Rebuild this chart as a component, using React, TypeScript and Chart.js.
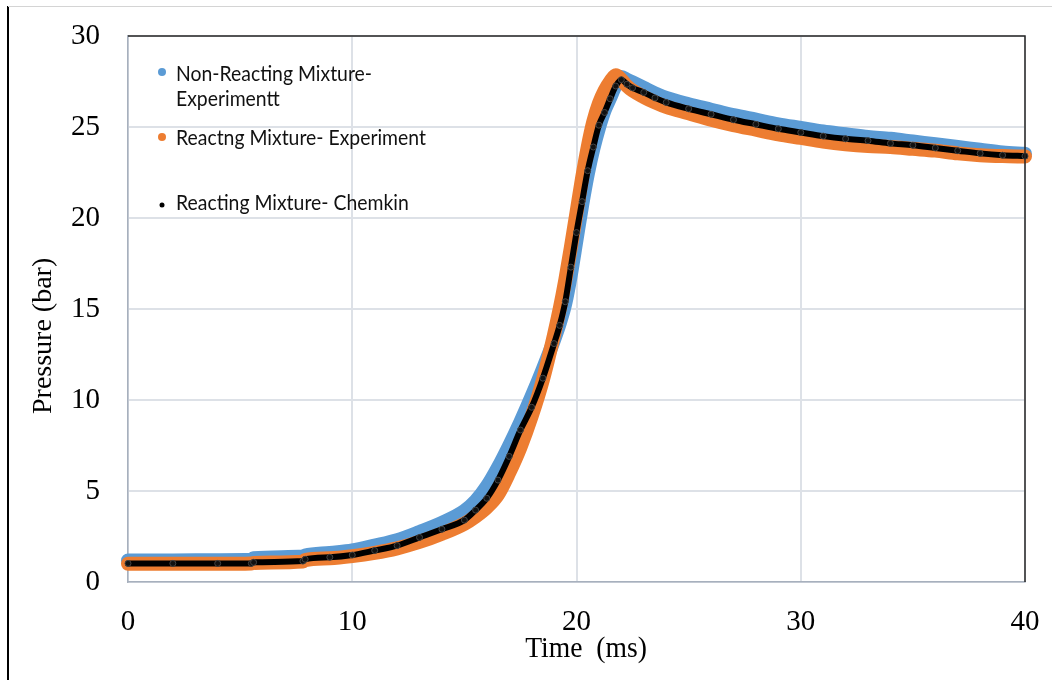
import React, { useEffect, useRef } from 'react';
import { Chart, registerables } from 'chart.js';

Chart.register(...registerables);

// Time grid (ms)
const TIME = [
  0, 2, 4, 5.5, 5.6, 7.8, 7.9, 9, 10, 11, 12, 13, 14, 15, 15.5, 16, 16.5, 17, 17.5, 18,
  18.5, 19, 19.25, 19.5, 19.75, 20, 20.25, 20.5, 20.75, 21, 21.25, 21.5, 21.75, 22, 22.25,
  22.5, 23, 23.5, 24, 25, 26, 27, 28, 29, 30, 31, 32, 33, 34, 35, 36, 37, 38, 39, 40,
];

// Pressure (bar)
const NON_REACTING_EXP = [
  1.18, 1.18, 1.2, 1.22, 1.3, 1.4, 1.45, 1.6, 1.73, 2.0, 2.3, 2.75, 3.25, 3.9, 4.45, 5.25,
  6.3, 7.5, 8.8, 10.2, 11.7, 13.3, 14.2, 15.3, 16.9, 18.8, 20.7, 22.4, 23.8, 24.95, 25.9,
  26.6, 27.3, 27.75, 27.6, 27.45, 27.15, 26.85, 26.6, 26.25, 25.95, 25.65, 25.4, 25.15,
  24.95, 24.75, 24.6, 24.45, 24.35, 24.2, 24.05, 23.9, 23.75, 23.6, 23.53,
];

const REACTING_EXP = [
  1.0, 1.0, 1.0, 1.02, 1.05, 1.12, 1.2, 1.3, 1.42, 1.6, 1.85, 2.2, 2.65, 3.2, 3.6, 4.1,
  4.8, 6.0, 7.4, 9.1, 11.1, 13.6, 15.0, 16.6, 18.4, 20.3, 22.2, 23.9, 25.3, 26.3, 27.0,
  27.5, 27.85, 27.6, 27.25, 27.0, 26.65, 26.35, 26.1, 25.75, 25.4, 25.1, 24.85, 24.6,
  24.4, 24.2, 24.05, 23.95, 23.9, 23.8, 23.7, 23.55, 23.45, 23.4, 23.38,
];

const REACTING_CHEMKIN = [
  1.02, 1.02, 1.02, 1.02, 1.08, 1.15, 1.25, 1.36, 1.48, 1.73, 2.0, 2.45, 2.9, 3.4, 3.95,
  4.6, 5.6, 6.9, 8.35, 9.6, 11.2, 13.1, 14.1, 15.4, 17.3, 19.2, 20.9, 22.6, 23.9, 25.1,
  25.8, 26.55, 27.25, 27.6, 27.35, 27.15, 26.9, 26.6, 26.35, 26.0, 25.7, 25.4, 25.15,
  24.9, 24.7, 24.5, 24.35, 24.25, 24.1, 24.0, 23.85, 23.7, 23.55, 23.45, 23.4,
];

const X_TICKS = [0, 10, 20, 30, 40];
const Y_TICKS = [0, 5, 10, 15, 20, 25, 30];

const LEGEND_LABELS = [
  ['Non-Reacting Mixture-', 'Experimentt'],
  ['Reactng Mixture- Experiment'],
  ['Reacting Mixture- Chemkin'],
];
const X_TITLE = 'Time  (ms)';
const Y_TITLE = 'Pressure (bar)';

const BLUE = '#5b9bd5';
const ORANGE = '#ed7d31';
const BLACK = '#000000';
const GRID = '#dde1e7';
const AXIS = '#a7b0bd';
const SERIF = "'Liberation Serif', 'Times New Roman', serif";
const SANS = "Lato, 'Open Sans', sans-serif";

const toPoints = (ys: number[]) => TIME.map((t, i) => ({ x: t, y: ys[i] }));

const decorPlugin = {
  id: 'decor',
  afterDraw(chart: any) {
    const ctx: CanvasRenderingContext2D = chart.ctx;
    const { left, right, top, bottom } = chart.chartArea;
    ctx.save();

    // outer frame (left black, top grey)
    ctx.strokeStyle = '#000';
    ctx.lineWidth = 2;
    ctx.beginPath();
    ctx.moveTo(8, 6);
    ctx.lineTo(8, 680);
    ctx.stroke();
    ctx.strokeStyle = '#d4d4d4';
    ctx.lineWidth = 1;
    ctx.beginPath();
    ctx.moveTo(8, 6.5);
    ctx.lineTo(1052, 6.5);
    ctx.stroke();

    // plot area border: top & right
    ctx.strokeStyle = '#262626';
    ctx.lineWidth = 1.5;
    ctx.beginPath();
    ctx.moveTo(left, top);
    ctx.lineTo(right, top);
    ctx.lineTo(right, bottom);
    ctx.stroke();

    // legend
    const colors = [BLUE, ORANGE, BLACK];
    const radii = [4, 4, 2.5];
    const markerY = [72, 137, 205];
    const baselines = [[81, 106], [145], [210]];
    ctx.font = `21px ${SANS}`;
    const w = ctx.measureText(LEGEND_LABELS[0][0]).width;
    const sx = 196 / w;
    LEGEND_LABELS.forEach((lines, i) => {
      ctx.fillStyle = colors[i];
      ctx.beginPath();
      ctx.arc(162, markerY[i], radii[i], 0, Math.PI * 2);
      ctx.fill();
      ctx.fillStyle = '#111';
      ctx.textAlign = 'left';
      ctx.textBaseline = 'alphabetic';
      lines.forEach((line, j) => {
        ctx.save();
        ctx.translate(176, baselines[i][j]);
        ctx.scale(sx, 1);
        ctx.fillText(line, 0, 0);
        ctx.restore();
      });
    });

    // axis titles
    ctx.fillStyle = '#000';
    ctx.font = `30px ${SERIF}`;
    ctx.save();
    ctx.translate(586, 657);
    ctx.scale(0.92, 1);
    ctx.textAlign = 'center';
    ctx.textBaseline = 'alphabetic';
    ctx.fillText(X_TITLE, 0, 0);
    ctx.restore();

    ctx.font = `28px ${SERIF}`;
    ctx.save();
    ctx.translate(44, 414);
    ctx.rotate(-Math.PI / 2);
    ctx.textAlign = 'left';
    ctx.textBaseline = 'middle';
    ctx.fillText(Y_TITLE, 0, 0);
    ctx.restore();

    ctx.restore();
  },
};

export default function App() {
  const canvasRef = useRef<HTMLCanvasElement | null>(null);

  useEffect(() => {
    const canvas = canvasRef.current;
    if (!canvas) return;
    const chart = new Chart(canvas, {
      type: 'line',
      data: {
        datasets: [
          {
            label: LEGEND_LABELS[2][0],
            data: toPoints(REACTING_CHEMKIN),
            borderColor: BLACK,
            backgroundColor: BLACK,
            borderWidth: 6,
            pointRadius: 3,
            pointBackgroundColor: '#111',
            pointBorderColor: '#444',
            pointBorderWidth: 1,
            cubicInterpolationMode: 'monotone',
            borderCapStyle: 'round',
            borderJoinStyle: 'round',
            clip: false,
            order: 1,
          },
          {
            label: LEGEND_LABELS[1][0],
            data: toPoints(REACTING_EXP),
            borderColor: ORANGE,
            backgroundColor: ORANGE,
            borderWidth: 14,
            pointRadius: 0,
            cubicInterpolationMode: 'monotone',
            borderCapStyle: 'round',
            borderJoinStyle: 'round',
            clip: false,
            order: 2,
          },
          {
            label: LEGEND_LABELS[0].join(' '),
            data: toPoints(NON_REACTING_EXP),
            borderColor: BLUE,
            backgroundColor: BLUE,
            borderWidth: 14,
            pointRadius: 0,
            cubicInterpolationMode: 'monotone',
            borderCapStyle: 'round',
            borderJoinStyle: 'round',
            clip: false,
            order: 3,
          },
        ] as any,
      },
      options: {
        animation: false,
        responsive: false,
        maintainAspectRatio: false,
        layout: { autoPadding: false, padding: { top: 36, right: 27, left: 0, bottom: 0 } },
        plugins: {
          legend: { display: false },
          tooltip: { enabled: false },
        },
        events: [],
        scales: {
          x: {
            type: 'linear',
            min: 0,
            max: 40,
            afterBuildTicks: (s: any) => {
              s.ticks = X_TICKS.map((v) => ({ value: v }));
            },
            afterFit: (s: any) => {
              s.height = 98;
              s.paddingLeft = 0;
              s.paddingRight = 0;
            },
            grid: { color: GRID, lineWidth: 2, drawTicks: false },
            border: { color: AXIS, width: 1.5 },
            ticks: {
              color: '#000',
              font: { family: SERIF, size: 29 },
              padding: 23,
              maxRotation: 0,
            },
          },
          y: {
            type: 'linear',
            min: 0,
            max: 30,
            afterBuildTicks: (s: any) => {
              s.ticks = Y_TICKS.map((v) => ({ value: v }));
            },
            afterFit: (s: any) => {
              s.width = 128;
              s.paddingTop = 0;
              s.paddingBottom = 0;
            },
            grid: { color: GRID, lineWidth: 2, drawTicks: false },
            border: { color: AXIS, width: 1.5 },
            ticks: {
              color: '#000',
              font: { family: SERIF, size: 29 },
              padding: 28,
            },
          },
        },
      } as any,
      plugins: [decorPlugin],
    });
    return () => chart.destroy();
  }, []);

  return (
    <div style={{ position: 'fixed', left: 0, top: 0, width: 1052, height: 680, background: '#fff' }}>
      <canvas ref={canvasRef} width={1052} height={680} style={{ display: 'block' }} />
    </div>
  );
}
